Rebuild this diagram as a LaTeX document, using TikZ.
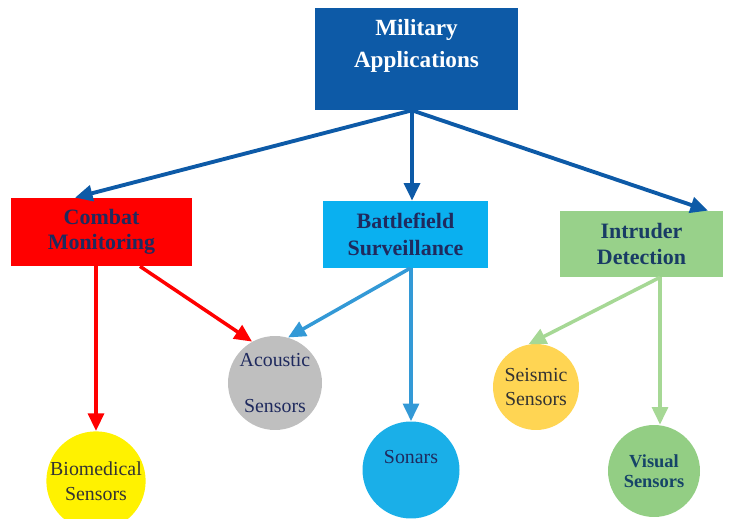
\documentclass[tikz,border=0pt]{standalone}
\usepackage{fontspec}
\setmainfont{Liberation Serif}
\usepackage{tikz}
\usetikzlibrary{arrows.meta, positioning}
\definecolor{milblue}{HTML}{0D5AA7}
\definecolor{boxnavy}{HTML}{1F2A5E}
\definecolor{bfbox}{HTML}{0AB0F0}
\definecolor{bfarrow}{HTML}{3399D6}
\definecolor{idbox}{HTML}{98D18A}
\definecolor{idarrow}{HTML}{A6D895}
\definecolor{acgray}{HTML}{BFBFBF}
\definecolor{seisgold}{HTML}{FFD553}
\definecolor{sonblue}{HTML}{1AAFE8}
\definecolor{visgreen}{HTML}{93CE84}
\tikzset{>={Triangle[length=10pt,width=9pt]}}
\tikzset{
  catbox/.style={rectangle, align=center, inner sep=0pt, text=boxnavy,
    font=\bfseries\fontsize{12.5}{14.5}\selectfont},
  sensor/.style={circle, align=center, inner sep=0pt, text=boxnavy,
    font=\fontsize{11.3}{14}\selectfont},
  link/.style={->, line width=2pt}
}

\begin{document}
\begin{tikzpicture}[x=0.02cm,y=-0.02cm]
        \useasboundingbox (0,0) rectangle (729,519);
        % top level
        \node (main) at (416.5,59)[rectangle, fill=milblue, minimum width=4.06cm, minimum height=2.04cm,
          label={[anchor=north, yshift=-6.5pt, inner sep=0pt, align=center, text=white,
          font=\bfseries\fontsize{13.2}{18}\selectfont]north:Military\\Applications}]{};
        % categories
        \node (combat) at (101.5,232)[catbox, fill=red, minimum width=3.62cm, minimum height=1.36cm]{Combat\\Monitoring};
        \node (battle) at (405.5,234.5)[catbox, fill=bfbox, minimum width=3.3cm, minimum height=1.34cm,
          font=\bfseries\fontsize{12.5}{15.5}\selectfont]{Battlefield\\Surveillance};
        \node (intruder) at (641.5,244)[catbox, fill=idbox, minimum width=3.26cm, minimum height=1.32cm,
          text=boxnavy!80!teal]{Intruder\\Detection};
        % sensors
        \node (acoustic) at (275,383)[sensor, fill=acgray, minimum size=1.88cm]{Acoustic\\[12pt]Sensors};
        \node (seismic) at (536,387)[sensor, fill=seisgold, minimum size=1.72cm, text=black!80]{Seismic\\Sensors};
        \node (bio) at (96,481)[sensor, fill=yellow, minimum size=1.94cm, text=black!80]{Biomedical\\Sensors};
        \node (sonars) at (411,470)[sensor, fill=sonblue, minimum size=1.94cm, text depth=15pt]{Sonars};
        \node (visual) at (654,471)[sensor, fill=visgreen, minimum size=1.84cm, text=boxnavy!70!teal,
          font=\bfseries\fontsize{10.5}{11.5}\selectfont]{Visual\\Sensors};

        \coordinate (hub) at ([xshift=-0.09cm]main.south);
        \coordinate (idfoot) at ([xshift=0.37cm]intruder.south);
        \draw [link, milblue, line width=2.2pt](hub)--([xshift=-0.53cm]combat.north);
        \draw [link, milblue, line width=2.2pt](hub)--(hub |- battle.north);
        \draw [link, milblue, line width=2.2pt](hub)--([xshift=1.33cm]intruder.north);
        \draw [link, red](combat.south -| bio.north)--(bio.north);
        \draw [link, red]([xshift=0.77cm]combat.south)--(acoustic.119);
        \draw [link, bfarrow]([xshift=0.09cm]battle.south)--(acoustic.74);
        \draw [link, bfarrow](battle.south -| sonars.north)--(sonars.north);
        \draw [link, idarrow](idfoot)--(seismic.100);
        \draw [link, idarrow](idfoot)--(idfoot |- visual.north);
\end{tikzpicture}
\end{document}
